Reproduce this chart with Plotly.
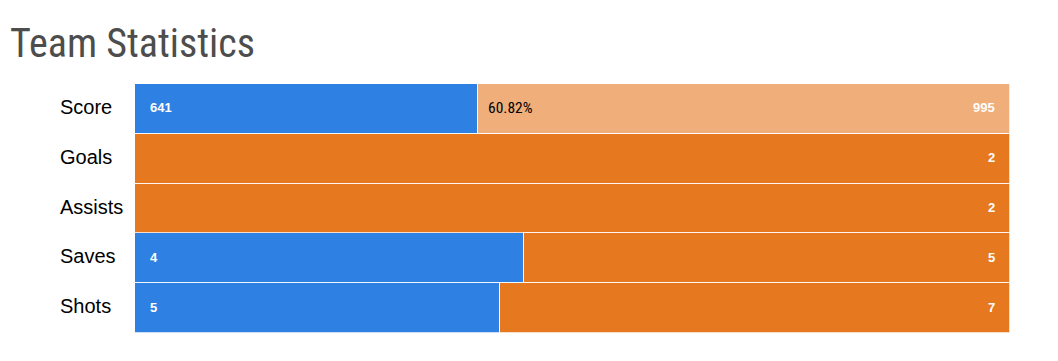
import plotly.graph_objects as go

categories = ["Score", "Goals", "Assists", "Saves", "Shots"]
team_a = [641, 0, 0, 4, 5]
team_b = [995, 2, 2, 5, 7]
highlight_label = "60.82%"

BLUE = "#2F80E3"
ORANGE = "#E67820"
ORANGE_LIGHT = "#F0AE7B"

b_colors = [ORANGE_LIGHT if c == "Score" else ORANGE for c in categories]

fig = go.Figure()
fig.add_bar(y=categories, x=team_a, orientation="h", marker=dict(color=BLUE, line=dict(color="rgba(255,255,255,0.75)", width=1)),
            hoverinfo="skip", name="A")
fig.add_bar(y=categories, x=team_b, orientation="h", marker=dict(color=b_colors, line=dict(color="rgba(255,255,255,0.75)", width=1)),
            hoverinfo="skip", name="B")

annotations = []
for c, a, b in zip(categories, team_a, team_b):
    # category label, left aligned
    annotations.append(dict(x=0, y=c, xref="paper", yref="y", text=c, showarrow=False,
                            xanchor="left", xshift=-77, yshift=2,
                            font=dict(family="Liberation Sans, Arial", size=20, color="black")))
    if a > 0:
        annotations.append(dict(x=0, y=c, xref="x", yref="y", text=f"<b>{a}</b>", showarrow=False,
                                xanchor="left", xshift=13, yshift=1, font=dict(family="Liberation Sans, Arial", size=13, color="white")))
    if b > 0:
        annotations.append(dict(x=100, y=c, xref="x", yref="y", text=f"<b>{b}</b>", showarrow=False,
                                xanchor="right", xshift=-13, yshift=1, font=dict(family="Liberation Sans, Arial", size=13, color="white")))

# percentage label inside the highlighted Score bar
score_a = team_a[0] / (team_a[0] + team_b[0]) * 100
annotations.append(dict(x=score_a, y="Score", xref="x", yref="y", text=highlight_label, showarrow=False,
                        xanchor="left", xshift=8, yshift=1, font=dict(family="Roboto Condensed, Liberation Sans Narrow, Arial Narrow", size=15.5, color="black")))

fig.update_layout(
    width=1050, height=353,
    barmode="stack", barnorm="percent", bargap=0,
    plot_bgcolor="white", paper_bgcolor="white",
    margin=dict(l=127, r=48, t=76, b=28),
    showlegend=False,
    title=dict(text="Team Statistics", x=0.002, xanchor="left", y=0.9405, yanchor="top",
               font=dict(family="Roboto Condensed, Liberation Sans Narrow, Arial Narrow", size=40, color="#4d4d4d")),
    xaxis=dict(range=[0, 100], visible=False, fixedrange=True),
    yaxis=dict(autorange="reversed", showgrid=False, zeroline=False, ticks="", showticklabels=False),
    annotations=annotations,
)

fig.write_html("out.html")
